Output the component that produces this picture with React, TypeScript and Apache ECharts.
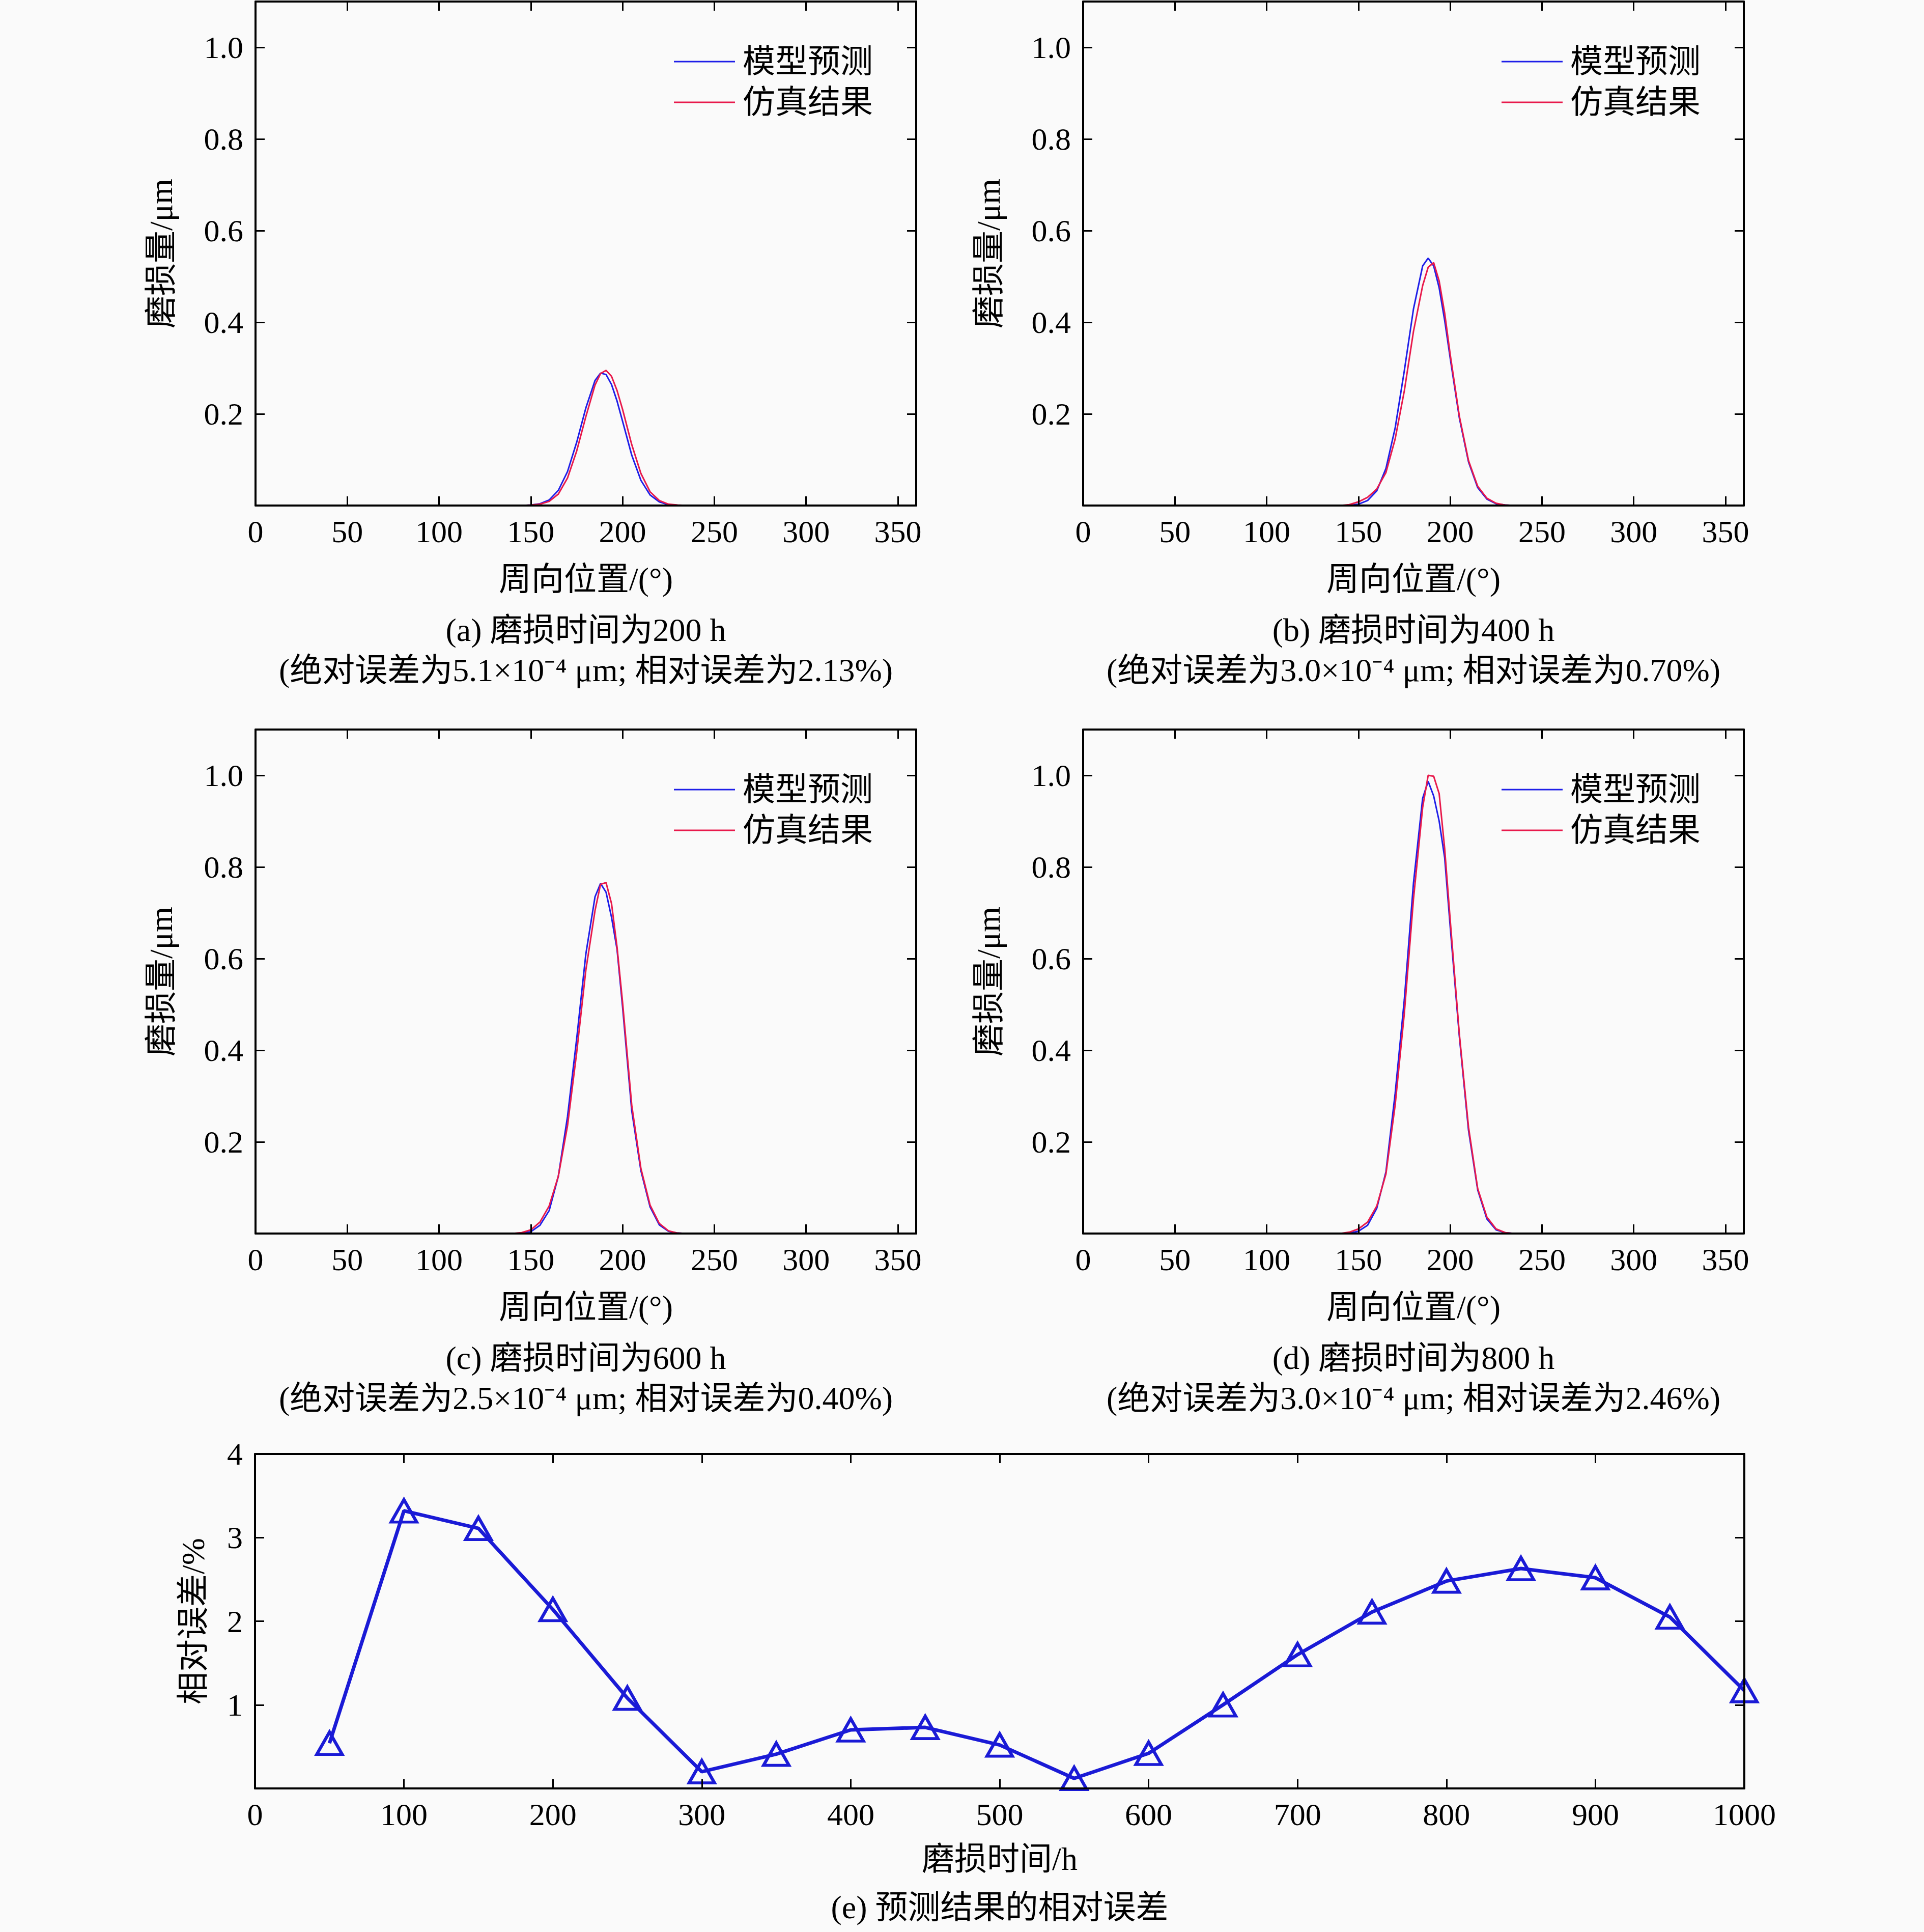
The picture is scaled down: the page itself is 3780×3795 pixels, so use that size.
import React, { useEffect, useRef } from 'react';
import * as echarts from 'echarts';

const FONT = "'Liberation Serif', 'Noto Sans CJK SC', serif";
const BLUE = '#1e1ee8';
const BLUE_E = '#1a1ad6';
const RED = '#e8194b';

// 周向位置 (°)
const angles = [140, 145, 150, 155, 160, 165, 170, 175, 180, 185, 188, 191, 194, 197, 200, 205, 210, 215, 220, 225, 230, 235];

// 磨损量 (μm) —— 模型预测 / 仿真结果
const model200 = [0, 0, 0.001, 0.004, 0.012, 0.033, 0.074, 0.138, 0.213, 0.273, 0.289, 0.286, 0.264, 0.228, 0.184, 0.110, 0.055, 0.023, 0.008, 0.002, 0.0005, 0];
const sim200 = [0, 0, 0.001, 0.003, 0.009, 0.025, 0.060, 0.119, 0.194, 0.263, 0.288, 0.295, 0.282, 0.251, 0.210, 0.133, 0.070, 0.030, 0.011, 0.003, 0.001, 0];
const model400 = [0, 0, 0.003, 0.011, 0.032, 0.081, 0.169, 0.294, 0.429, 0.523, 0.540, 0.523, 0.475, 0.404, 0.322, 0.191, 0.095, 0.039, 0.014, 0.004, 0.001, 0];
const sim400 = [0, 0.002, 0.008, 0.018, 0.036, 0.072, 0.145, 0.250, 0.380, 0.480, 0.520, 0.530, 0.490, 0.420, 0.330, 0.195, 0.098, 0.042, 0.016, 0.005, 0.001, 0];
const model600 = [0, 0.001, 0.004, 0.018, 0.050, 0.125, 0.255, 0.425, 0.610, 0.735, 0.764, 0.745, 0.690, 0.620, 0.495, 0.268, 0.137, 0.058, 0.019, 0.005, 0.001, 0];
const sim600 = [0, 0.002, 0.008, 0.025, 0.060, 0.125, 0.235, 0.395, 0.575, 0.705, 0.762, 0.766, 0.720, 0.625, 0.505, 0.280, 0.142, 0.062, 0.022, 0.006, 0.001, 0];
const model800 = [0, 0.001, 0.005, 0.018, 0.055, 0.135, 0.305, 0.510, 0.765, 0.950, 0.987, 0.955, 0.900, 0.820, 0.670, 0.430, 0.225, 0.095, 0.032, 0.008, 0.002, 0];
const sim800 = [0, 0.003, 0.010, 0.025, 0.060, 0.130, 0.280, 0.480, 0.730, 0.930, 1.000, 0.998, 0.960, 0.840, 0.685, 0.435, 0.232, 0.098, 0.036, 0.010, 0.002, 0];

// 磨损时间 (h) 与相对误差 (%)
const wearTimes = [50, 100, 150, 200, 250, 300, 350, 400, 450, 500, 550, 600, 650, 700, 750, 800, 850, 900, 950, 1000];
const relError = [0.54, 3.32, 3.11, 2.14, 1.08, 0.20, 0.41, 0.70, 0.73, 0.52, 0.12, 0.42, 1.00, 1.60, 2.11, 2.48, 2.63, 2.52, 2.05, 1.17];

const legendNames = ['模型预测', '仿真结果'];

const captions = [
  ['(a) 磨损时间为200 h', '(绝对误差为5.1×10⁻⁴ μm; 相对误差为2.13%)'],
  ['(b) 磨损时间为400 h', '(绝对误差为3.0×10⁻⁴ μm; 相对误差为0.70%)'],
  ['(c) 磨损时间为600 h', '(绝对误差为2.5×10⁻⁴ μm; 相对误差为0.40%)'],
  ['(d) 磨损时间为800 h', '(绝对误差为3.0×10⁻⁴ μm; 相对误差为2.46%)'],
];
const lastCaption = '(e) 预测结果的相对误差';

const PW = 1298;
const PH = 990;

const panels = [
  { left: 502, top: 3, model: model200, sim: sim200 },
  { left: 2128, top: 3, model: model400, sim: sim400 },
  { left: 502, top: 1433, model: model600, sim: sim600 },
  { left: 2128, top: 1433, model: model800, sim: sim800 },
];

const axisLine = { show: true, onZero: false, lineStyle: { color: '#000', width: 4 } };
const axisTick = { show: true, inside: true, length: 18, lineStyle: { color: '#000', width: 3 } };
const labelBase = { color: '#000', fontFamily: FONT, fontSize: 62 };
const nameStyle = { color: '#000', fontFamily: FONT, fontSize: 64 };

const captionText = (text: string, x: number, y: number) => ({
  type: 'text', x, y,
  style: { text, fill: '#000', fontFamily: FONT, fontSize: 64, textAlign: 'center', textVerticalAlign: 'middle', align: 'center', verticalAlign: 'middle' },
});

const App = () => {
  const chartRef = useRef(null);

  useEffect(() => {
    const chart = echarts.init(chartRef.current, null, { renderer: 'svg' });

    const grid: any[] = [];
    const xAxis: any[] = [];
    const yAxis: any[] = [];
    const series: any[] = [];
    const legend: any[] = [];
    const graphic: any[] = [];

    panels.forEach((p, i) => {
      grid.push({ left: p.left, top: p.top, width: PW, height: PH });
      xAxis.push({
        gridIndex: i, type: 'value', position: 'bottom', min: 0, max: 360, interval: 50, z: 5,
        axisLine, axisTick, splitLine: { show: false },
        axisLabel: { ...labelBase, margin: 20, showMaxLabel: false, formatter: (v: number) => (v === 360 ? '' : String(v)) },
        name: '周向位置/(°)', nameLocation: 'middle', nameGap: 112, nameTextStyle: nameStyle,
      });
      xAxis.push({
        gridIndex: i, type: 'value', position: 'top', min: 0, max: 360, interval: 50, z: 5,
        axisLine, axisTick, splitLine: { show: false }, axisLabel: { show: false },
      });
      yAxis.push({
        gridIndex: i, type: 'value', position: 'left', min: 0, max: 1.1, interval: 0.2, z: 5,
        axisLine, axisTick, splitLine: { show: false },
        axisLabel: { ...labelBase, margin: 24, showMinLabel: false, showMaxLabel: false, formatter: (v: number) => v.toFixed(1) },
        name: '磨损量/μm', nameLocation: 'middle', nameGap: 154, nameTextStyle: nameStyle,
      });
      yAxis.push({
        gridIndex: i, type: 'value', position: 'right', min: 0, max: 1.1, interval: 0.2, z: 5,
        axisLine, axisTick, splitLine: { show: false }, axisLabel: { show: false },
      });
      series.push({
        name: legendNames[0], type: 'line', xAxisIndex: 2 * i, yAxisIndex: 2 * i,
        data: angles.map((a, k) => [a, p.model[k]]), symbol: 'none',
        color: BLUE, lineStyle: { color: BLUE, width: 3 },
      });
      series.push({
        name: legendNames[1], type: 'line', xAxisIndex: 2 * i, yAxisIndex: 2 * i,
        data: angles.map((a, k) => [a, p.sim[k]]), symbol: 'none',
        color: RED, lineStyle: { color: RED, width: 3 },
      });
      legend.push({
        data: legendNames, orient: 'vertical', left: p.left + 817, top: p.top + 81,
        icon: 'rect', itemWidth: 120, itemHeight: 3, itemGap: 16, selectedMode: false,
        textStyle: { ...nameStyle, padding: [0, 0, 0, 10] },
      });
      const cx = p.left + PW / 2;
      graphic.push(captionText(captions[i][0], cx, p.top + 1234));
      graphic.push(captionText(captions[i][1], cx, p.top + 1313));
    });

    // (e) 相对误差
    grid.push({ left: 501, top: 2856, width: 2926, height: 657 });
    xAxis.push({
      gridIndex: 4, type: 'value', position: 'bottom', min: 0, max: 1000, interval: 100, z: 5,
      axisLine, axisTick, splitLine: { show: false },
      axisLabel: { ...labelBase, margin: 20, formatter: (v: number) => String(v) },
      name: '磨损时间/h', nameLocation: 'middle', nameGap: 106, nameTextStyle: nameStyle,
    });
    xAxis.push({
      gridIndex: 4, type: 'value', position: 'top', min: 0, max: 1000, interval: 100, z: 5,
      axisLine, axisTick, splitLine: { show: false }, axisLabel: { show: false },
    });
    yAxis.push({
      gridIndex: 4, type: 'value', position: 'left', min: 0, max: 4, interval: 1, z: 5,
      axisLine, axisTick, splitLine: { show: false },
      axisLabel: { ...labelBase, margin: 24, showMinLabel: false },
      name: '相对误差/%', nameLocation: 'middle', nameGap: 90, nameTextStyle: nameStyle,
    });
    yAxis.push({
      gridIndex: 4, type: 'value', position: 'right', min: 0, max: 4, interval: 1, z: 5,
      axisLine, axisTick, splitLine: { show: false }, axisLabel: { show: false },
    });
    series.push({
      name: '相对误差', type: 'line', xAxisIndex: 8, yAxisIndex: 8,
      data: wearTimes.map((t, k) => [t, relError[k]]),
      symbol: 'triangle', symbolSize: [50, 44],
      itemStyle: { color: 'rgba(0,0,0,0)', borderColor: BLUE_E, borderWidth: 6 },
      lineStyle: { color: BLUE_E, width: 7 },
    });
    graphic.push(captionText(lastCaption, 1964, 3746));

    chart.setOption({
      animation: false,
      backgroundColor: '#fafafa',
      textStyle: { fontFamily: FONT },
      grid, xAxis, yAxis, series, legend, graphic,
    });

    return () => {
      chart.dispose();
    };
  }, []);

  return (
    <div ref={chartRef} style={{ position: 'absolute', left: 0, top: 0, width: '3780px', height: '3795px' }}></div>
  );
};

export default App;
